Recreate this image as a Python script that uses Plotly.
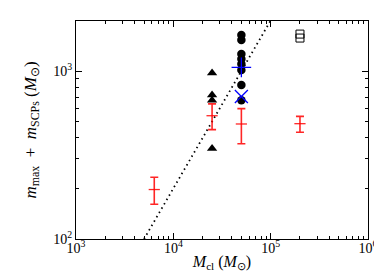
import plotly.graph_objects as go

# data
tri_x = [2.5e4, 2.5e4, 2.5e4, 2.5e4]
tri_y = [973, 720, 671, 346]
circ_x = [5e4] * 8
circ_y = [1637, 1531, 1262, 1178, 1101, 1014, 826, 671]
plus_x = [5e4]
plus_y = [1052]
cross_x = [5e4]
cross_y = [706]
sq_x = [2e5, 2e5]
sq_y = [1660, 1572]
err_x = [6370, 2.5e4, 5e4, 2e5]
err_y = [197, 542, 484, 486]
err_hi = [233, 638, 597, 537]
err_lo = [161, 448, 369, 432]
line_x = [5000, 1e5]
line_y = [100, 2000]
x_ticks = [1e3, 1e4, 1e5, 1e6]
x_ticktext = ["10<sup>3</sup>", "10<sup>4</sup>", "10<sup>5</sup>", "10<sup>6</sup>"]
y_ticks = [100, 1000]
y_ticktext = ["10<sup>2</sup>", "10<sup>3</sup>"]

fig = go.Figure()
fig.add_trace(go.Scatter(x=line_x, y=line_y, mode="lines",
                         line=dict(color="black", width=1.8, dash="1.5px,3.5px")))
fig.add_trace(go.Scatter(x=tri_x, y=tri_y, mode="markers",
                         marker=dict(symbol="triangle-up", size=9, color="black")))
fig.add_trace(go.Scatter(x=circ_x, y=circ_y, mode="markers",
                         marker=dict(symbol="circle", size=8.5, color="black")))
fig.add_trace(go.Scatter(x=sq_x, y=sq_y, mode="markers",
                         marker=dict(symbol="square-open", size=8, color="black",
                                     line=dict(width=1, color="black"))))
fig.add_trace(go.Scatter(x=plus_x, y=plus_y, mode="markers",
                         marker=dict(symbol="cross-thin", size=14,
                                     line=dict(width=1.3, color="blue"))))
fig.add_trace(go.Scatter(x=cross_x, y=cross_y, mode="markers",
                         marker=dict(symbol="x-thin", size=13,
                                     line=dict(width=1.3, color="blue"))))
fig.add_trace(go.Scatter(
    x=err_x, y=err_y, mode="markers",
    marker=dict(symbol="line-ew", size=8, line=dict(width=1.3, color="rgba(255,0,0,0.85)")),
    error_y=dict(type="data", symmetric=False,
                 array=[h - c for h, c in zip(err_hi, err_y)],
                 arrayminus=[c - l for c, l in zip(err_y, err_lo)],
                 color="rgba(255,0,0,0.85)", thickness=1.6, width=4)))

minor_x = [m * 10 ** e for e in range(3, 6) for m in range(2, 10)]
minor_y = [m * 10 ** e for e in range(2, 4) for m in range(2, 10)]

axis_common = dict(type="log", showline=True, linecolor="black", linewidth=1.2,
                   mirror="ticks", ticks="inside", ticklen=6, tickwidth=1,
                   tickcolor="black", showgrid=False, zeroline=False,
                   tickfont=dict(family="Liberation Serif", size=14, color="black"))

fig.update_xaxes(**axis_common, range=[3, 6], tickmode="array", tickvals=x_ticks,
                 ticktext=x_ticktext, ticklabelstandoff=-4,
                 minor=dict(tickmode="array", tickvals=minor_x, ticks="inside",
                            ticklen=3, tickcolor="black", showgrid=False),
                 title=dict(text="<i>M</i><sub>cl</sub> (<i>M</i><sub>⊙</sub>)",
                            font=dict(family="Liberation Serif", size=16, color="black"),
                            standoff=0))
fig.update_yaxes(**axis_common, range=[2, 3.298], tickmode="array", tickvals=y_ticks,
                 ticktext=y_ticktext,
                 minor=dict(tickmode="array", tickvals=minor_y, ticks="inside",
                            ticklen=3, tickcolor="black", showgrid=False),
                 title=dict(text="<i>m</i><sub>max</sub>&nbsp; + &nbsp;<i>m</i><sub>SCPs</sub> (<i>M</i><sub>⊙</sub>)",
                            font=dict(family="Liberation Serif", size=17, color="black"),
                            standoff=12))

fig.update_layout(width=382, height=273, showlegend=False,
                  margin=dict(l=68, r=15, t=13, b=42),
                  plot_bgcolor="white", paper_bgcolor="white")

fig.write_html("out.html")
